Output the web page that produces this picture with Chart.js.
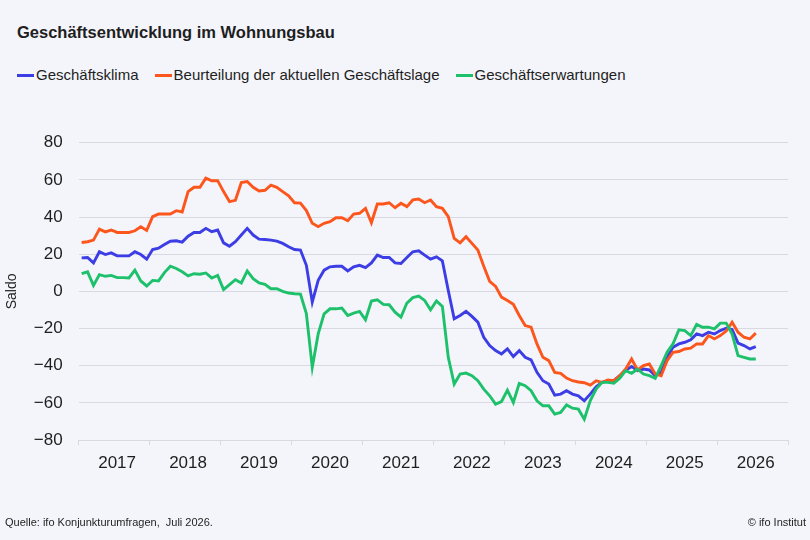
<!DOCTYPE html>
<html lang="de">
<head>
  <meta charset="UTF-8">
  <title>Geschäftsentwicklung im Wohnungsbau</title>
  <script src="https://cdn.jsdelivr.net/npm/chart.js"></script>
  <style>
    body {
      margin: 0;
      width: 810px;
      height: 540px;
      background: #f4f5fa;
      font-family: 'Liberation Sans', Arial, sans-serif;
      color: #1e1e1e;
      position: relative;
      overflow: hidden;
    }
    h1 {
      position: absolute;
      left: 17px;
      top: 23px;
      margin: 0;
      font-size: 16.5px;
      font-weight: 700;
    }
    .legend {
      position: absolute;
      left: 17px;
      top: 66px;
      display: flex;
      font-size: 15px;
      line-height: 18px;
    }
    .legend span {
      display: flex;
      align-items: center;
      margin-right: 16px;
    }
    .legend i {
      display: inline-block;
      width: 17px;
      height: 3px;
      margin-right: 2px;
    }
    #chart {
      position: absolute;
      left: 0;
      top: 0;
    }
    .foot {
      position: absolute;
      top: 516px;
      font-size: 11px;
    }
  </style>
</head>
<body>
  <h1>Geschäftsentwicklung im Wohnungsbau</h1>
  <div class="legend" id="legend"></div>
  <div style="position:absolute;left:0;top:0;width:810px;height:540px">
    <canvas id="chart"></canvas>
  </div>
  <div class="foot" style="left:5px">Quelle: ifo Konjunkturumfragen,&nbsp; Juli 2026.</div>
  <div class="foot" style="right:4px">© ifo Institut</div>

  <script>
    // monthly values, Jan 2017 .. Jul 2026
    const startYear = 2017;
    const years = [2017, 2018, 2019, 2020, 2021, 2022, 2023, 2024, 2025, 2026];

    const klima = [
      18.0, 18.2, 15.3, 21.3, 19.8, 20.7, 19.1, 19.1, 19.1, 21.3, 19.8, 17.3,
      22.5, 23.2, 25.2, 27.0, 27.2, 26.5, 29.7, 31.7, 31.7, 33.9, 32.1, 33.0,
      26.1, 24.3, 26.7, 30.3, 33.9, 30.3, 28.1, 27.9, 27.6, 27.0, 25.8, 24.0,
      22.5, 22.2, 14.0, -5.8, 5.9, 11.4, 13.2, 13.5, 13.5, 11.0, 13.2, 14.0,
      12.8, 15.3, 19.5, 18.2, 18.2, 15.3, 15.0, 18.2, 21.3, 21.8, 19.5, 17.3,
      18.6, 16.4, 0.5, -14.8, -13.0, -10.8, -13.5, -16.6, -24.7, -29.2, -31.9, -33.7,
      -31.0, -35.1, -31.9, -35.5, -36.9, -43.6, -48.1, -49.9, -55.9, -55.3, -53.5, -55.3,
      -56.2, -58.9, -55.3, -51.4, -49.0, -48.1, -48.1, -45.4, -42.7, -40.4, -42.7, -41.8,
      -42.3, -45.4, -43.6, -35.5, -30.1, -28.3, -27.4, -26.1, -22.9, -23.8, -22.0, -22.9,
      -21.1, -19.8, -20.5, -27.9, -29.2, -31.0, -29.7
    ];

    const lage = [
      26.3, 26.7, 27.6, 33.5, 32.0, 33.0, 31.7, 31.7, 31.7, 32.6, 34.8, 32.8,
      40.2, 41.6, 41.6, 41.6, 43.4, 42.7, 53.7, 56.0, 56.0, 60.9, 59.5, 59.6,
      53.7, 48.3, 49.0, 58.6, 59.1, 56.0, 54.0, 54.4, 57.1, 56.0, 53.7, 51.4,
      47.7, 47.5, 43.5, 36.6, 34.8, 36.6, 37.5, 39.6, 39.6, 38.0, 41.6, 42.0,
      44.7, 36.9, 47.0, 47.0, 47.7, 45.0, 47.4, 45.6, 49.2, 49.7, 47.7, 49.2,
      45.6, 44.7, 40.2, 28.5, 26.1, 29.4, 25.8, 22.2, 13.5, 5.4, 2.7, -3.1,
      -4.9, -7.0, -13.0, -18.4, -19.3, -28.3, -35.5, -37.3, -43.6, -44.1, -46.7, -48.1,
      -48.8, -49.2, -50.5, -48.1, -49.0, -47.7, -48.1, -45.4, -41.8, -36.4, -42.3, -40.0,
      -39.1, -44.5, -45.4, -37.3, -32.8, -32.4, -31.0, -30.6, -28.3, -28.3, -23.8, -25.6,
      -23.8, -21.4, -16.6, -22.0, -24.7, -25.6, -22.5
    ];

    const erwartungen = [
      9.5, 10.5, 3.2, 9.0, 8.1, 8.6, 7.4, 7.4, 7.2, 11.4, 5.6, 2.9,
      5.9, 5.6, 10.1, 13.5, 12.3, 10.5, 8.3, 9.5, 9.2, 9.9, 7.2, 8.6,
      0.9, 3.6, 6.3, 4.5, 11.0, 6.8, 4.5, 3.8, 1.4, 1.4, 0.0, -0.9,
      -1.3, -1.5, -12.0, -40.9, -22.9, -12.1, -9.4, -9.4, -9.0, -13.0, -11.7, -10.8,
      -15.3, -5.2, -4.5, -7.0, -7.2, -11.2, -13.9, -6.3, -3.4, -2.5, -4.9, -9.9,
      -5.2, -8.1, -35.5, -49.9, -44.5, -44.0, -45.4, -48.1, -52.6, -56.2, -60.7, -59.3,
      -53.2, -59.8, -49.5, -50.8, -53.5, -58.9, -61.6, -61.6, -66.1, -65.2, -61.1, -62.9,
      -63.4, -68.8, -58.9, -52.6, -49.0, -49.0, -49.5, -46.7, -42.7, -44.1, -41.8, -44.5,
      -45.4, -46.8, -40.0, -32.8, -28.3, -20.7, -21.1, -23.8, -17.8, -19.3, -19.3, -20.2,
      -17.1, -17.1, -23.0, -34.6, -35.5, -36.4, -36.4
    ];

    const seriesNames = ['Geschäftsklima', 'Beurteilung der aktuellen Geschäftslage', 'Geschäftserwartungen'];
    const colors = ['#3c3de4', '#fc561c', '#1dc06b'];
    const yTicks = [-80, -60, -40, -20, 0, 20, 40, 60, 80];

    // month index -> x position (middle of the month)
    const toPoints = arr => arr.map((v, i) => ({ x: startYear + (i + 0.5) / 12, y: v }));

    const legend = document.getElementById('legend');
    seriesNames.forEach((name, i) => {
      legend.innerHTML += `<span><i style="background:${colors[i]}"></i>${name}</span>`;
    });

    const font = 'Liberation Sans, Arial, sans-serif';
    const grey = '#d9dae1';

    new Chart(document.getElementById('chart'), {
      type: 'line',
      data: {
        datasets: [klima, lage, erwartungen].map((arr, i) => ({
          label: seriesNames[i],
          data: toPoints(arr),
          borderColor: colors[i],
          backgroundColor: colors[i],
          borderWidth: 2.9,
          pointRadius: 0,
          tension: 0,
          order: 3 - i
        }))
      },
      options: {
        responsive: true,
        maintainAspectRatio: false,
        animation: false,
        layout: { padding: { top: 142.7, right: 21.7, left: 0, bottom: 0 } },
        plugins: {
          legend: { display: false },
          tooltip: { enabled: false }
        },
        scales: {
          x: {
            type: 'linear',
            min: startYear,
            max: years[years.length - 1] + 1,
            afterFit: s => { s.height = 100; },
            afterBuildTicks: s => {
              s.ticks = years.concat([years[years.length - 1] + 1]).map(v => ({ value: v }));
            },
            grid: { drawOnChartArea: false, drawTicks: true, tickLength: 5, color: grey },
            border: { display: true, color: grey },
            ticks: {
              autoSkip: false,
              maxRotation: 0,
              labelOffset: 38.4,
              padding: 8,
              color: '#1e1e1e',
              font: { family: font, size: 17 },
              callback: v => years.includes(v) ? String(v) : ''
            }
          },
          y: {
            min: -80,
            max: 80,
            afterFit: s => { s.width = 78.7; },
            afterBuildTicks: s => { s.ticks = yTicks.map(v => ({ value: v })); },
            grid: { color: grey, drawTicks: false },
            border: { display: false },
            ticks: {
              padding: 16,
              color: '#1e1e1e',
              font: { family: font, size: 17 },
              callback: v => String(v).replace('-', '\u2212')
            },
            title: {
              display: true,
              text: 'Saldo',
              color: '#1e1e1e',
              font: { family: font, size: 14 },
              padding: { top: 4, bottom: 0 }
            }
          }
        }
      }
    });
  </script>
</body>
</html>
